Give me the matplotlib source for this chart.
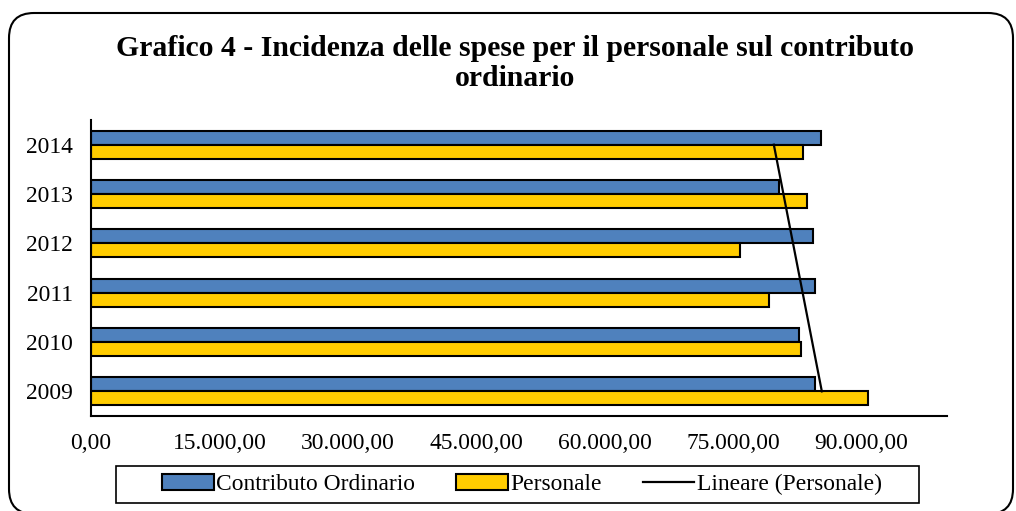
import numpy as np
import matplotlib
matplotlib.use("Agg")
import matplotlib.pyplot as plt
from matplotlib.patches import FancyBboxPatch, Rectangle
from matplotlib.transforms import IdentityTransform

# dati
anni = ["2009", "2010", "2011", "2012", "2013", "2014"]
contributo = [84560, 82690, 84560, 84330, 80350, 85260]
personale = [90760, 82920, 79180, 75790, 83630, 83160]
xticks = [0, 15000, 30000, 45000, 60000, 75000, 90000]
xtick_labels = ["0,00", "15.000,00", "30.000,00", "45.000,00",
                "60.000,00", "75.000,00", "90.000,00"]

plt.rcParams["font.family"] = ["Liberation Serif", "DejaVu Serif"]

fig = plt.figure(figsize=(10.16, 5.11), dpi=100)
ax = fig.add_axes([91 / 1016, 1 - 416 / 511, (947 - 91) / 1016, (416 - 120) / 511])

y = np.arange(len(anni))
h = 0.285
b1 = ax.barh(y + h / 2, contributo, height=h, color="#4F81BD", edgecolor="black",
             linewidth=1.5, label="Contributo Ordinario")
b2 = ax.barh(y - h / 2, personale, height=h, color="#FFCC00", edgecolor="black",
             linewidth=1.5, label="Personale")

# linea di tendenza lineare su Personale
coef = np.polyfit(y, personale, 1)
ln, = ax.plot(np.polyval(coef, y), y, color="black", linewidth=1.6,
              label="Lineare (Personale)")

ax.set_xlim(0, 100000)
ax.set_ylim(-0.5, len(anni) - 0.5)
ax.set_yticks(y)
ax.set_yticklabels(anni)
ax.set_xticks(xticks)
ax.set_xticklabels(xtick_labels)
ax.tick_params(axis="both", length=0, labelsize=16.9)
ax.tick_params(axis="y", pad=13)
ax.tick_params(axis="x", pad=12)
for s in ["top", "right"]:
    ax.spines[s].set_visible(False)
for s in ["left", "bottom"]:
    ax.spines[s].set_linewidth(1.5)

fig.text(0.507, 1 - 63.5 / 511,
         "Grafico 4 - Incidenza delle spese per il personale sul contributo\nordinario",
         ha="center", va="center", fontsize=21.4, fontweight="bold", linespacing=1.1)

fig.legend([b1, b2, ln], ["Contributo Ordinario", "Personale", "Lineare (Personale)"],
           loc="center", bbox_to_anchor=(522 / 1016, 1 - 484.5 / 511),
           ncol=3, fontsize=16.9, frameon=False, handlelength=2.2,
           handletextpad=0.1, columnspacing=1.75, borderpad=0.25)
# riquadro della legenda
fig.patches.append(Rectangle((116, 511 - 503), 803, 37, transform=IdentityTransform(),
                             facecolor="none", edgecolor="black", linewidth=1.2))

# cornice arrotondata
fig.patches.append(FancyBboxPatch((9, -3), 1004, 501,
                                  boxstyle="round,pad=0,rounding_size=25",
                                  transform=IdentityTransform(), facecolor="none",
                                  edgecolor="black", linewidth=1.5))

fig.savefig("out.png", dpi=100)
